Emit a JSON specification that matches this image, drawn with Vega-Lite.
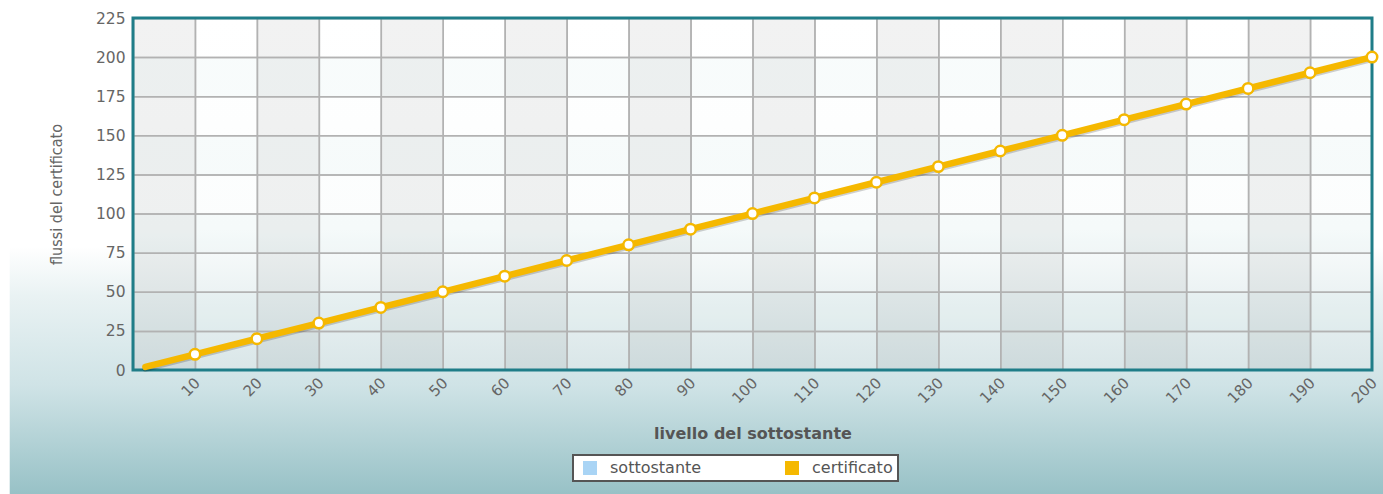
{
  "$schema": "https://vega.github.io/schema/vega-lite/v6.json",
  "width": 1239,
  "height": 352,
  "autosize": {"type": "none"},
  "padding": {"left": 133, "top": 18, "right": 11, "bottom": 124},
  "background": "#ffffff",
  "config": {
    "view": {"stroke": null},
    "legend": {"strokeWidth": 2}
  },
  "data": {
    "values": [
      {"x": 2, "y": 2, "serie": "certificato"},
      {"x": 10, "y": 10, "serie": "certificato"},
      {"x": 20, "y": 20, "serie": "certificato"},
      {"x": 30, "y": 30, "serie": "certificato"},
      {"x": 40, "y": 40, "serie": "certificato"},
      {"x": 50, "y": 50, "serie": "certificato"},
      {"x": 60, "y": 60, "serie": "certificato"},
      {"x": 70, "y": 70, "serie": "certificato"},
      {"x": 80, "y": 80, "serie": "certificato"},
      {"x": 90, "y": 90, "serie": "certificato"},
      {"x": 100, "y": 100, "serie": "certificato"},
      {"x": 110, "y": 110, "serie": "certificato"},
      {"x": 120, "y": 120, "serie": "certificato"},
      {"x": 130, "y": 130, "serie": "certificato"},
      {"x": 140, "y": 140, "serie": "certificato"},
      {"x": 150, "y": 150, "serie": "certificato"},
      {"x": 160, "y": 160, "serie": "certificato"},
      {"x": 170, "y": 170, "serie": "certificato"},
      {"x": 180, "y": 180, "serie": "certificato"},
      {"x": 190, "y": 190, "serie": "certificato"},
      {"x": 200, "y": 200, "serie": "certificato"}
    ]
  },
  "layer": [
    {
      "transform": [{"filter": "datum.x == 2"}],
      "mark": {
        "type": "rect",
        "clip": false,
        "fill": {
          "gradient": "linear", "x1": 0, "y1": 0, "x2": 0, "y2": 1,
          "stops": [
            {"offset": 0, "color": "#ffffff"},
            {"offset": 0.5, "color": "#ffffff"},
            {"offset": 0.6, "color": "#e9f2f3"},
            {"offset": 0.78, "color": "#cfe3e6"},
            {"offset": 1, "color": "#97c1c6"}
          ]
        }
      },
      "encoding": {
        "x": {
          "datum": -19.9, "type": "quantitative",
          "scale": {"domain": [0, 200]},
          "axis": {
            "zindex": 1,
            "title": "livello del sottostante",
            "values": [10, 20, 30, 40, 50, 60, 70, 80, 90, 100, 110, 120, 130, 140, 150, 160, 170, 180, 190, 200],
            "domain": false, "ticks": false, "grid": false,
            "labelAngle": -45, "labelFont": "DejaVu Sans", "labelFontSize": 15, "labelColor": "#666666",
            "labelPadding": 5, "labelOffset": -3, "labelOverlap": false,
            "titleFont": "DejaVu Sans", "titleFontSize": 16, "titleFontWeight": "bold", "titleColor": "#555555",
            "titlePadding": 20
          }
        },
        "x2": {"datum": 203},
        "y": {
          "datum": -80, "type": "quantitative",
          "scale": {"domain": [0, 225]},
          "axis": {
            "zindex": 1,
            "title": "flussi del certificato",
            "values": [0, 25, 50, 75, 100, 125, 150, 175, 200, 225],
            "domain": false, "ticks": false, "grid": false,
            "labelFont": "DejaVu Sans", "labelFontSize": 15.5, "labelColor": "#666666", "labelPadding": 8,
            "labelOverlap": false,
            "titleFont": "DejaVu Sans Condensed", "titleFontSize": 16, "titleFontWeight": "normal", "titleColor": "#666666",
            "titlePadding": 31
          }
        },
        "y2": {"datum": 238}
      }
    },
    {
      "transform": [{"filter": "datum.x == 2"}],
      "mark": {
        "type": "rect",
        "fill": {
          "gradient": "linear", "x1": 0, "y1": 0, "x2": 0, "y2": 1,
          "stops": [
            {"offset": 0, "color": "#ffffff"},
            {"offset": 0.6, "color": "#fbfdfd"},
            {"offset": 1, "color": "#d9e6e8"}
          ]
        }
      },
      "encoding": {
        "x": {"datum": 0, "type": "quantitative", "scale": {"domain": [0, 200]}, "title": "livello del sottostante"},
        "x2": {"datum": 200},
        "y": {"datum": 0, "type": "quantitative", "scale": {"domain": [0, 225]}, "title": "flussi del certificato"},
        "y2": {"datum": 225}
      }
    },
    {
      "transform": [{"filter": "datum.x % 20 < 10"}],
      "mark": {"type": "rect", "clip": true, "fill": "#000000", "fillOpacity": 0.05},
      "encoding": {
        "x": {"field": "x", "type": "quantitative", "bin": {"step": 10, "extent": [0, 210]}, "scale": {"domain": [0, 200]}, "title": "livello del sottostante"},
        "y": {"datum": 0, "type": "quantitative", "scale": {"domain": [0, 225]}, "title": "flussi del certificato"},
        "y2": {"datum": 225},
        "tooltip": {"aggregate": "count", "type": "quantitative"}
      }
    },
    {
      "transform": [{"filter": "datum.y % 50 >= 25"}],
      "mark": {"type": "rect", "clip": true, "fill": "#cfe6ea", "fillOpacity": 0.12},
      "encoding": {
        "y": {"field": "y", "type": "quantitative", "bin": {"step": 25, "extent": [0, 225]}, "scale": {"domain": [0, 225]}, "title": "flussi del certificato"},
        "x": {"datum": 0, "type": "quantitative", "scale": {"domain": [0, 200]}, "title": "livello del sottostante"},
        "x2": {"datum": 200},
        "tooltip": {"aggregate": "count", "type": "quantitative"}
      }
    },
    {
      "mark": {"type": "rect", "clip": true, "fill": null, "stroke": "#b2b2b2", "strokeWidth": 1.5},
      "encoding": {
        "x": {"field": "x", "type": "quantitative", "bin": {"step": 10, "extent": [0, 210]}, "scale": {"domain": [0, 200]}, "title": "livello del sottostante"},
        "y": {"datum": 0, "type": "quantitative", "scale": {"domain": [0, 225]}, "title": "flussi del certificato"},
        "y2": {"datum": 225},
        "tooltip": {"aggregate": "count", "type": "quantitative"}
      }
    },
    {
      "mark": {"type": "rect", "clip": true, "fill": null, "stroke": "#b2b2b2", "strokeWidth": 1.5},
      "encoding": {
        "y": {"field": "y", "type": "quantitative", "bin": {"step": 25, "extent": [0, 225]}, "scale": {"domain": [0, 225]}, "title": "flussi del certificato"},
        "x": {"datum": 0, "type": "quantitative", "scale": {"domain": [0, 200]}, "title": "livello del sottostante"},
        "x2": {"datum": 200},
        "tooltip": {"aggregate": "count", "type": "quantitative"}
      }
    },
    {
      "transform": [{"filter": "datum.x == 2"}],
      "mark": {"type": "rect", "fill": null, "stroke": "#1f7d88", "strokeWidth": 3, "clip": false},
      "encoding": {
        "x": {"datum": 0, "type": "quantitative", "scale": {"domain": [0, 200]}, "title": "livello del sottostante"},
        "x2": {"datum": 200},
        "y": {"datum": 0, "type": "quantitative", "scale": {"domain": [0, 225]}, "title": "flussi del certificato"},
        "y2": {"datum": 225}
      }
    },
    {
      "mark": {"type": "line", "stroke": "#000000", "strokeOpacity": 0.18, "strokeWidth": 6, "yOffset": 2, "strokeCap": "round"},
      "encoding": {
        "x": {"field": "x", "type": "quantitative", "scale": {"domain": [0, 200]}, "title": "livello del sottostante"},
        "y": {"field": "y", "type": "quantitative", "scale": {"domain": [0, 225]}, "title": "flussi del certificato"}
      }
    },
    {
      "mark": {"type": "line", "strokeWidth": 6.5, "strokeCap": "round"},
      "encoding": {
        "x": {"field": "x", "type": "quantitative", "scale": {"domain": [0, 200]}, "title": "livello del sottostante"},
        "y": {"field": "y", "type": "quantitative", "scale": {"domain": [0, 225]}, "title": "flussi del certificato"},
        "color": {
          "field": "serie", "type": "nominal",
          "scale": {"domain": ["sottostante", "certificato"], "range": ["#a9d4f5", "#f5b800"]},
          "legend": {
            "title": null, "orient": "none", "legendX": 440, "legendY": 437,
            "direction": "horizontal", "fillColor": "#ffffff", "strokeColor": "#555555",
            "padding": 5, "symbolType": "square", "symbolSize": 196, "symbolStrokeWidth": 0,
            "labelFont": "DejaVu Sans", "labelFontSize": 16, "labelColor": "#555555",
            "labelOffset": 12, "columnPadding": 78, "symbolOffset": 4, "rowPadding": 0,
            "encode": {
              "symbols": {
                "update": {
                  "fill": {"scale": "color", "field": "value"},
                  "fillOpacity": {"value": 1},
                  "strokeWidth": {"value": 0}
                }
              }
            }
          }
        }
      }
    },
    {
      "transform": [{"filter": "datum.x >= 10"}],
      "mark": {"type": "point", "shape": "circle", "filled": true, "fill": "#ffffff", "stroke": "#f5b800", "strokeWidth": 2.5, "size": 110, "opacity": 1},
      "encoding": {
        "x": {"field": "x", "type": "quantitative", "scale": {"domain": [0, 200]}, "title": "livello del sottostante"},
        "y": {"field": "y", "type": "quantitative", "scale": {"domain": [0, 225]}, "title": "flussi del certificato"}
      }
    }
  ]
}
